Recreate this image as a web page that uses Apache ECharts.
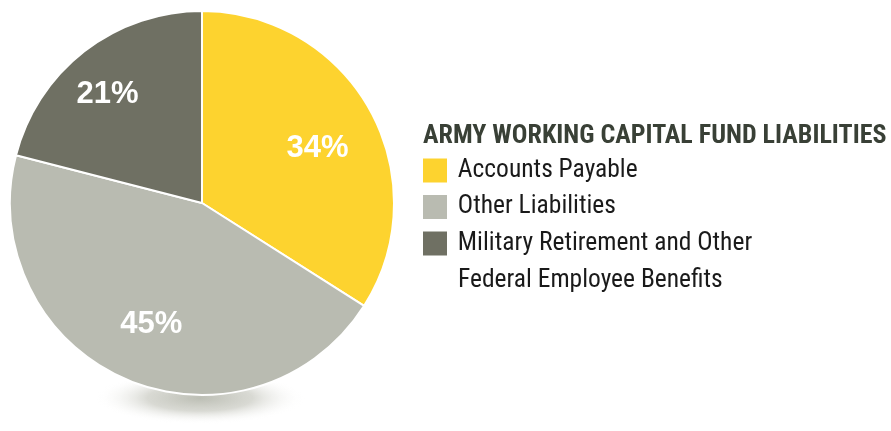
<!DOCTYPE html>
<html><head><meta charset="utf-8">
<script src="https://cdn.jsdelivr.net/npm/echarts@6/dist/echarts.min.js"></script>
<style>html,body{margin:0;padding:0;background:#fff}#c{width:891px;height:431px}</style>
</head><body><div id="c"></div>
<script>
const categories = ['Accounts Payable', 'Other Liabilities', 'Military Retirement and Other\nFederal Employee Benefits'];
const values = [34, 45, 21];
const colors = ['#FDD32F', '#B9BBB1', '#6F7063'];
const titleText = 'ARMY WORKING CAPITAL FUND LIABILITIES';

const chart = echarts.init(document.getElementById('c'), null, {renderer: 'canvas'});
const narrow = '"Roboto Condensed", "DejaVu Sans Condensed", sans-serif';
const data = categories.map((n, i) => ({name: n, value: values[i], itemStyle: {color: colors[i]}}));
const labelShift = [[-1, 10], [2, -1], [-13, -3]];
const secondLine = categories[2].split('\n')[1];
chart.setOption({
  animation: false,
  title: [{
    text: titleText, left: 423, top: 120, padding: 0,
    textStyle: {fontFamily: narrow, fontWeight: 'bold', fontSize: 26, lineHeight: 33, color: '#394036'}
  }, {
    text: secondLine, left: 458, top: 264, padding: 0,
    textStyle: {fontFamily: narrow, fontWeight: 'normal', fontSize: 25.5, lineHeight: 33, color: '#1a1a1a'}
  }],
  legend: {
    orient: 'vertical', left: 423, top: 154, padding: 0,
    itemWidth: 24, itemHeight: 24, itemGap: 3.5,
    icon: 'rect', selectedMode: false,
    data: categories,
    formatter: n => ' ' + n.split('\n')[0],
    textStyle: {fontFamily: narrow, fontSize: 25.5, color: '#1a1a1a', lineHeight: 33},
    itemStyle: {borderWidth: 0}
  },
  graphic: [{
    type: 'circle', z: -10,
    shape: {cx: 0, cy: 0, r: 105},
    x: 200, y: 398, scaleY: 0.25,
    style: {fill: new echarts.graphic.RadialGradient(0.5, 0.5, 0.5, [
      {offset: 0, color: 'rgba(188,190,180,1)'},
      {offset: 0.5, color: 'rgba(210,211,204,0.85)'},
      {offset: 1, color: 'rgba(255,255,255,0)'}
    ])}
  }],
  series: [{
    type: 'pie', center: [202, 203], radius: [0, 192], startAngle: 90, clockwise: true,
    data: data, silent: true,
    itemStyle: {borderColor: '#fff', borderWidth: 2},
    label: {show: false}, labelLine: {show: false}
  }, {
    type: 'pie', center: [202, 203], radius: [0, 260], startAngle: 90, clockwise: true,
    data: categories.map((n, i) => ({name: n, value: values[i]})), silent: true,
    itemStyle: {color: 'rgba(0,0,0,0)', borderWidth: 0},
    label: {show: true, position: 'inside', formatter: '{d}%', color: '#fff',
      fontFamily: '"Liberation Sans", Arial, sans-serif', fontWeight: 'bold', fontSize: 31},
    labelLine: {show: false},
    labelLayout: p => ({dx: labelShift[p.dataIndex][0], dy: labelShift[p.dataIndex][1]})
  }]
});
</script></body></html>
